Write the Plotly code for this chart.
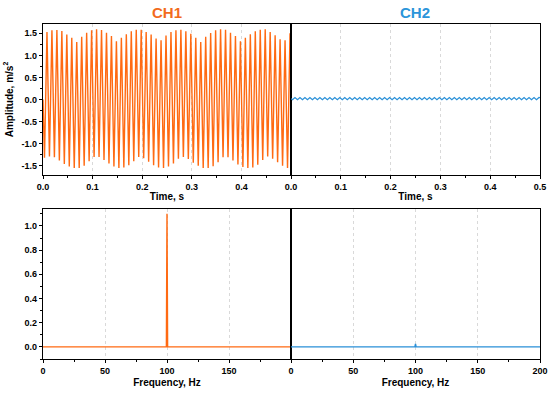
import numpy as np
import plotly.graph_objects as go

# ---------------- data ----------------
# CH1 time signal: per-cycle maxima and minima of the ~100 Hz vibration (m/s^2)
ch1_peaks = [1.53, 1.57, 1.575, 1.55, 1.47, 1.40, 1.30, 1.42, 1.51, 1.57,
             1.59, 1.575, 1.51, 1.44, 1.32, 1.40, 1.48, 1.545, 1.58, 1.58,
             1.53, 1.47, 1.38, 1.34, 1.45, 1.53, 1.57, 1.58, 1.545, 1.49,
             1.40, 1.30, 1.42, 1.505, 1.57, 1.59, 1.58, 1.51, 1.44, 1.32,
             1.40, 1.48, 1.545, 1.58, 1.59, 1.53, 1.455, 1.365, 1.34, 1.50]
ch1_troughs = [-1.32, -1.29, -1.31, -1.38, -1.46, -1.52, -1.55, -1.55, -1.50, -1.40,
               -1.30, -1.30, -1.37, -1.45, -1.52, -1.55, -1.54, -1.49, -1.40, -1.30,
               -1.33, -1.41, -1.49, -1.54, -1.55, -1.52, -1.45, -1.34, -1.30, -1.35,
               -1.43, -1.50, -1.55, -1.55, -1.51, -1.42, -1.31, -1.31, -1.38, -1.47,
               -1.53, -1.55, -1.54, -1.48, -1.37, -1.29, -1.34, -1.42, -1.50, -1.55]
ch1_start, ch1_end = 0.0, 1.35

# CH2 time signal: tiny ~100 Hz ripple
ch2_peaks = [0.045] * 50
ch2_troughs = [-0.005] * 50
ch2_start, ch2_end = 0.02, 0.04

# cycle timing of the 100 Hz component (s)
cycle_period = 0.01
trough_offset = 0.003
peak_offset = 0.008
t_end = 0.5

# spectra (amplitude vs frequency)
freq = [0, 99.5, 100, 100.5, 200]
ch1_spec = [0.0, 0.0, 1.1, 0.0, 0.0]
ch2_spec = [0.0, 0.0, 0.025, 0.0, 0.0]

time_ticks_left = [0.0, 0.1, 0.2, 0.3, 0.4]
time_ticks_right = [0.0, 0.1, 0.2, 0.3, 0.4, 0.5]
time_minor = [0.05, 0.15, 0.25, 0.35, 0.45]
freq_ticks_left = [0, 50, 100, 150]
freq_ticks_right = [0, 50, 100, 150, 200]
freq_minor = [25, 75, 125, 175]

ORANGE = "#FF6A12"
BLUE = "#2A90D8"


def build(peaks, troughs, start, end):
    n = len(peaks)
    t = [0.0]
    v = [start]
    for k in range(n):
        t += [trough_offset + cycle_period * k, peak_offset + cycle_period * k]
        v += [troughs[k], peaks[k]]
    t.append(t_end)
    v.append(end)
    return t, v


t1, v1 = build(ch1_peaks, ch1_troughs, ch1_start, ch1_end)
t2, v2 = build(ch2_peaks, ch2_troughs, ch2_start, ch2_end)

fig = go.Figure()
fig.add_trace(go.Scatter(x=t1, y=v1, mode="lines", line=dict(color=ORANGE, width=1.4),
                         xaxis="x", yaxis="y", showlegend=False))
fig.add_trace(go.Scatter(x=t2, y=v2, mode="lines", line=dict(color=BLUE, width=1.2),
                         xaxis="x2", yaxis="y2", showlegend=False))
fig.add_trace(go.Scatter(x=freq, y=ch1_spec, mode="lines", line=dict(color=ORANGE, width=1.4),
                         xaxis="x3", yaxis="y3", showlegend=False))
fig.add_trace(go.Scatter(x=freq, y=ch2_spec, mode="lines", line=dict(color=BLUE, width=1.4),
                         xaxis="x4", yaxis="y4", showlegend=False))

W, H = 550, 395


def px_x(p):
    return p / W


def px_y(p):
    return 1 - p / H


xl = [px_x(43), px_x(291)]
xr = [px_x(291), px_x(540)]
yt = [px_y(175), px_y(24)]
yb = [px_y(359), px_y(209)]

FONT = "Liberation Sans, Arial, sans-serif"
tickfont = dict(family=FONT, size=9, color="black", weight="bold")
titlefont = dict(family=FONT, size=10, color="black", weight="bold")

common_x = dict(showline=True, linecolor="black", linewidth=1.3, mirror=True,
                ticks="outside", ticklen=3, tickcolor="black", tickwidth=1,
                showgrid=True, gridcolor="#d9d9d9", griddash="3px,3px", gridwidth=1,
                zeroline=False, tickfont=tickfont, tickmode="array", automargin=False)
common_y = dict(showline=True, linecolor="black", linewidth=1.3, mirror=True,
                showgrid=False, zeroline=False, tickfont=tickfont, automargin=False)


def xminor(vals):
    return dict(tickmode="array", tickvals=vals, ticks="outside", ticklen=2,
                tickcolor="black", showgrid=False)


fig.update_layout(
    width=W, height=H, margin=dict(l=0, r=0, t=0, b=0, autoexpand=False),
    plot_bgcolor="white", paper_bgcolor="white",
    xaxis=dict(domain=xl, anchor="y", range=[0, 0.5], tickvals=time_ticks_left,
               ticktext=["0.0", "0.1", "0.2", "0.3", "0.4"], minor=xminor(time_minor),
               title=dict(text="Time, s", font=titlefont, standoff=2), **common_x),
    yaxis=dict(domain=yt, anchor="x", range=[-1.71, 1.71], tickmode="array",
               tickvals=[-1.5, -1.0, -0.5, 0.0, 0.5, 1.0, 1.5],
               ticktext=["-1.5", "-1.0", "-0.5", "0.0", "0.5", "1.0", "1.5"],
               ticks="outside", ticklen=3, tickcolor="black",
               minor=dict(tickmode="array", tickvals=[-1.25, -0.75, -0.25, 0.25, 0.75, 1.25],
                          ticks="outside", ticklen=2, tickcolor="black"),
               title=dict(text="Amplitude, m/s<sup>2</sup>", font=titlefont, standoff=6),
               **common_y),
    xaxis2=dict(domain=xr, anchor="y2", range=[0, 0.5], tickvals=time_ticks_right,
                ticktext=["0.0", "0.1", "0.2", "0.3", "0.4", "0.5"], minor=xminor(time_minor),
                title=dict(text="Time, s", font=titlefont, standoff=2), **common_x),
    yaxis2=dict(domain=yt, anchor="x2", range=[-1.71, 1.71], showticklabels=False,
                ticks="", **common_y),
    xaxis3=dict(domain=xl, anchor="y3", range=[0, 200], tickvals=freq_ticks_left,
                minor=xminor(freq_minor),
                title=dict(text="Frequency, Hz", font=titlefont, standoff=4), **common_x),
    yaxis3=dict(domain=yb, anchor="x3", range=[-0.1, 1.14], tickmode="array",
                tickvals=[0.0, 0.2, 0.4, 0.6, 0.8, 1.0],
                ticktext=["0.0", "0.2", "0.4", "0.6", "0.8", "1.0"],
                ticks="outside", ticklen=3, tickcolor="black",
                minor=dict(tickmode="array", tickvals=[-0.1, 0.1, 0.3, 0.5, 0.7, 0.9, 1.1],
                           ticks="outside", ticklen=2, tickcolor="black"),
                **common_y),
    xaxis4=dict(domain=xr, anchor="y4", range=[0, 200], tickvals=freq_ticks_right,
                minor=xminor(freq_minor),
                title=dict(text="Frequency, Hz", font=titlefont, standoff=4), **common_x),
    yaxis4=dict(domain=yb, anchor="x4", range=[-0.1, 1.14], showticklabels=False,
                ticks="", **common_y),
    annotations=[
        dict(text="CH1", x=(xl[0] + xl[1]) / 2, y=px_y(12), xref="paper", yref="paper",
             showarrow=False, xanchor="center", yanchor="middle",
             font=dict(family=FONT, size=15, color="#F26B1D", weight="bold")),
        dict(text="CH2", x=(xr[0] + xr[1]) / 2, y=px_y(12), xref="paper", yref="paper",
             showarrow=False, xanchor="center", yanchor="middle",
             font=dict(family=FONT, size=15, color="#2B95DA", weight="bold")),
    ],
)

fig.write_html(
    "out.html",
    config={"displayModeBar": False},
    post_script="document.body.style.margin='0';document.body.style.overflow='hidden';",
)
